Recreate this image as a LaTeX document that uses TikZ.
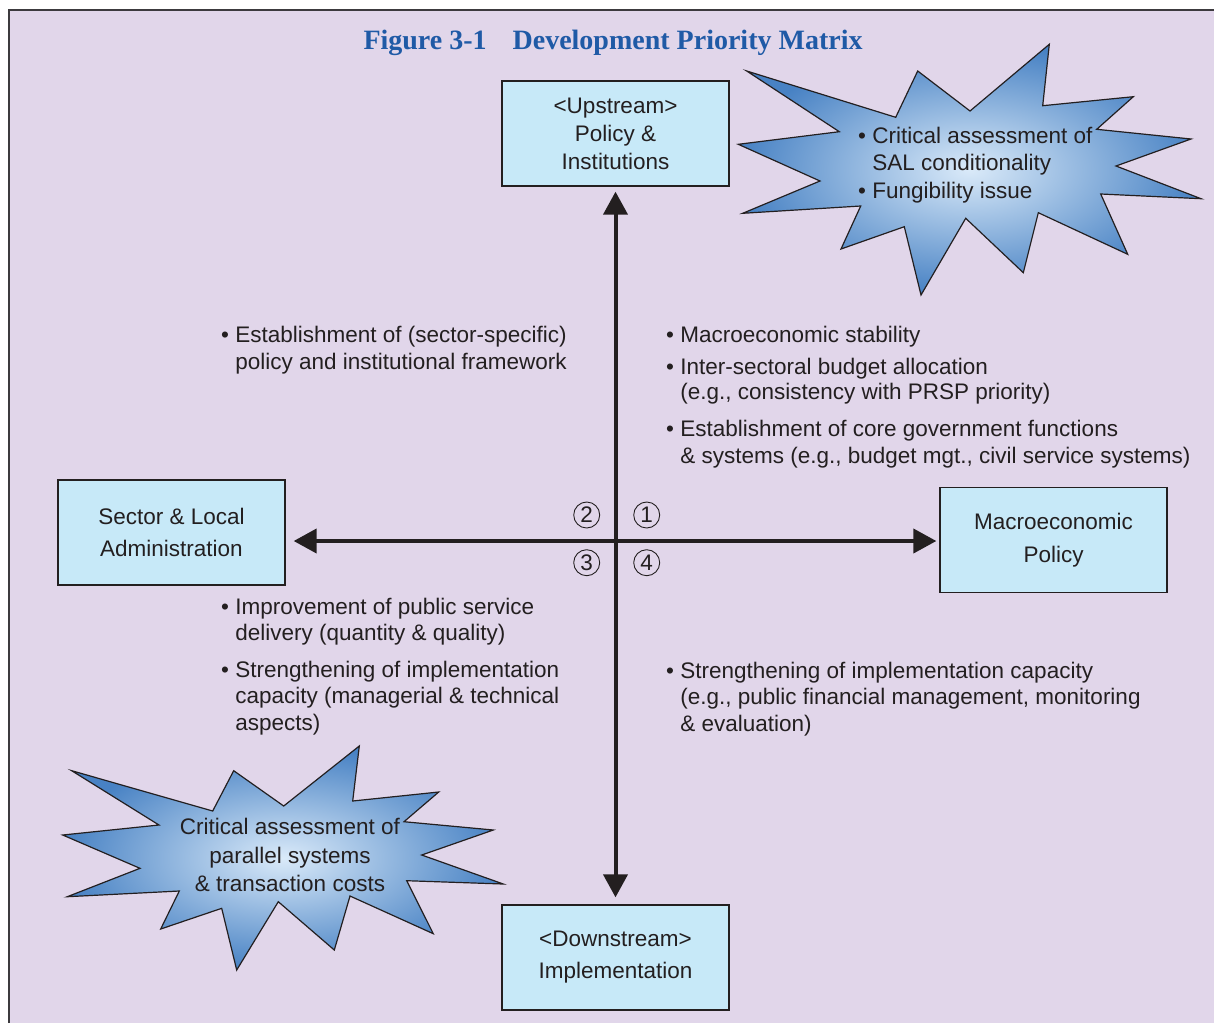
\documentclass[tikz,border=0pt]{standalone}
\usepackage{fontspec}
\setmainfont{Liberation Sans}
\newfontfamily\titlefont{Liberation Serif}
\usetikzlibrary{arrows.meta}
\definecolor{bgc}{RGB}{225,214,234}
\definecolor{framec}{RGB}{60,58,62}
\definecolor{boxc}{RGB}{199,233,248}
\definecolor{txt}{RGB}{35,31,32}
\definecolor{titlec}{RGB}{31,90,166}
\definecolor{starin}{RGB}{218,234,249}
\definecolor{starout}{RGB}{72,130,196}
\begin{document}
\begin{tikzpicture}[x=1pt,y=-1pt,
 every node/.style={text=txt,font=\fontsize{22.5}{26.5}\selectfont},
 boxnode/.style={draw=txt,fill=boxc,line width=1.3pt,minimum width=227pt,minimum height=105pt,align=center,inner sep=0pt},
 item/.style={anchor=base west,align=left,inner sep=0pt},
 numc/.style={circle,draw=txt,line width=0.9pt,minimum size=26pt,inner sep=0pt},
 star/.style={draw=txt,line width=1.2pt,inner color=starin,outer color=starout},
 axis/.style={line width=4pt,draw=txt,{Triangle[length=23pt,width=24pt]}-{Triangle[length=23pt,width=24pt]}}]
\useasboundingbox (0,0) rectangle (1214,1023);
\fill[bgc] (9,10) rectangle (1214,1023);
\draw[framec,line width=2pt] (9,1023) -- (9,10) -- (1214,10);

% title
\node[anchor=base,font=\titlefont\bfseries\fontsize{28}{31}\selectfont,text=titlec] (title) at (613,49) {Figure 3-1\hspace{26pt}Development Priority Matrix};

% stars
\shade[star] (746.7,71) -- (895.7,117.3) -- (917.7,71) -- (970,111) -- (1049.3,44.3) -- (1042.7,105.7) -- (1133.3,96.7) -- (1096.7,129.3) -- (1191,139) -- (1116,166) -- (1201,198.7) -- (1100.7,194) -- (1127.7,254.3) -- (1038.3,212.7) -- (1023.3,272.7) -- (965.7,218.3) -- (921,295) -- (904.3,226.7) -- (841,249) -- (860.7,206) -- (742.7,213.3) -- (820,181) -- (738.3,144.3) -- (839.3,131.7) -- cycle;
\shade[star] (71.7,770.7) -- (212.7,811) -- (233.7,770.7) -- (283.7,806) -- (359.3,746) -- (352.7,801) -- (438.7,792) -- (404,821.7) -- (493.3,830) -- (421.7,855) -- (503.3,884) -- (406.7,880.7) -- (433.3,933.7) -- (350,896) -- (334.3,950) -- (278.3,901.7) -- (236.7,970) -- (221.7,908.3) -- (160.7,929) -- (179.3,891) -- (67.3,896.7) -- (140,868.3) -- (62.7,835) -- (159,825) -- cycle;

\node[item,font=\fontsize{22.5}{27}\selectfont] (s1) at (858,170) {• Critical assessment of\\\hphantom{• }SAL conditionality};
\node[item] (s2) at (858,198) {• Fungibility issue};
\node[align=center,inner sep=0pt,font=\fontsize{22.5}{28.5}\selectfont] (s3) at (290,855) {Critical assessment of\\parallel systems\\\& transaction costs};

% boxes
\node[boxnode,font=\fontsize{22.5}{28}\selectfont] (up) at (615.5,133.5) {<Upstream>\\Policy \&\\Institutions};
\node[boxnode,font=\fontsize{22.5}{32}\selectfont] (sector) at (171.5,532.5) {Sector \& Local\\Administration};
\node[boxnode,font=\fontsize{22.5}{33}\selectfont] (macro) at (1053.5,540) {Macroeconomic\\Policy};
\node[boxnode,font=\fontsize{22.5}{32}\selectfont] (down) at (615.5,957.5) {<Downstream>\\Implementation};

% axes
\coordinate (c) at (616,541);
\draw[axis,shorten <=5pt,shorten >=7pt] (up.south) -- (down.north);
\draw[axis,shorten <=8pt,shorten >=3pt] (sector.east |- c) -- (macro.west |- c);

% quadrant numbers
\node[numc] (n1) at (646.7,515) {1};
\node[numc] (n2) at (586.7,515) {2};
\node[numc] (n3) at (586.7,562.7) {3};
\node[numc] (n4) at (646.7,562.7) {4};

% quadrant texts
\node[item,font=\fontsize{22.5}{27}\selectfont] (ul) at (221,369) {• Establishment of (sector-specific)\\\hphantom{• }policy and institutional framework};
\node[item] (ur1) at (666,342) {• Macroeconomic stability};
\node[item,font=\fontsize{22.5}{25}\selectfont] (ur2) at (666,399) {• Inter-sectoral budget allocation\\\hphantom{• }(e.g., consistency with PRSP priority)};
\node[item,font=\fontsize{22.5}{27}\selectfont] (ur3) at (666,463) {• Establishment of core government functions\\\hphantom{• }\& systems (e.g., budget mgt., civil service systems)};
\node[item,font=\fontsize{22.5}{26}\selectfont] (ll1) at (221,640) {• Improvement of public service\\\hphantom{• }delivery (quantity \& quality)};
\node[item] (ll2) at (221,730) {• Strengthening of implementation\\\hphantom{• }capacity (managerial \& technical\\\hphantom{• }aspects)};
\node[item] (lr) at (666,731) {• Strengthening of implementation capacity\\\hphantom{• }(e.g., public financial management, monitoring\\\hphantom{• }\& evaluation)};
\end{tikzpicture}
\end{document}
